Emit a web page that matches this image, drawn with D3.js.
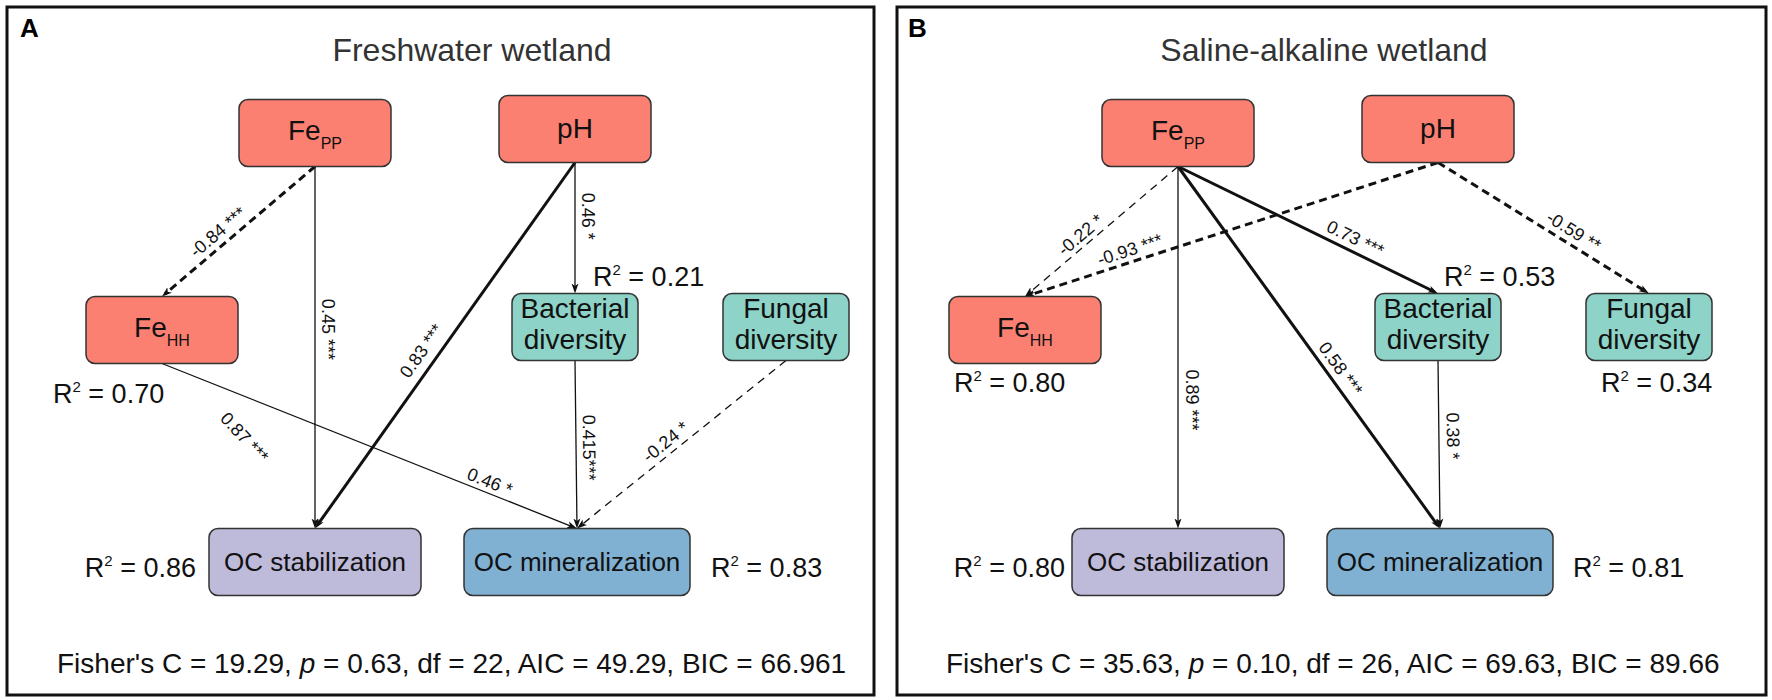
<!DOCTYPE html>
<html>
<head>
<meta charset="utf-8">
<script src="https://cdn.jsdelivr.net/npm/d3@7"></script>
<style>
  body { margin: 0; background: #fff; }
  svg { display: block; font-family: "Liberation Sans", Arial, sans-serif; }
</style>
</head>
<body>
<div id="chart"></div>
<script>
// ---- data ----
const nodeIds   = ["FePP", "pH", "FeHH", "Bact", "Fung", "OCs", "OCm"];
const nodeGroup = ["fe", "fe", "fe", "micro", "micro", "stab", "min"];
const nodeMain  = ["Fe", "pH", "Fe", "Bacterial", "Fungal", "OC stabilization", "OC mineralization"];
const nodeSub   = ["PP", "", "HH", "", "", "", ""];
const nodeLine2 = ["", "", "", "diversity", "diversity", "", ""];

const letters = ["A", "B"];
const titles  = ["Freshwater wetland", "Saline-alkaline wetland"];

// panel A paths
const fromA  = ["FePP", "FePP", "pH", "pH", "FeHH", "FeHH", "Bact", "Fung"];
const toA    = ["FeHH", "OCs", "OCs", "Bact", "OCs", "OCm", "OCm", "OCm"];
const coefA  = [-0.84, 0.45, 0.83, 0.46, 0.87, 0.46, 0.415, -0.24];
const starsA = [" ***", " ***", " ***", " *", " ***", " *", "***", " *"];
const r2NodeA = ["FeHH", "Bact", "OCs", "OCm"];
const r2A     = ["0.70", "0.21", "0.86", "0.83"];

// panel B paths
const fromB  = ["FePP", "pH", "FePP", "FePP", "FePP", "Bact", "pH"];
const toB    = ["FeHH", "FeHH", "OCs", "Bact", "OCm", "OCm", "Fung"];
const coefB  = [-0.22, -0.93, 0.89, 0.73, 0.58, 0.38, -0.59];
const starsB = [" *", " ***", " ***", " ***", " ***", " *", " **"];
const r2NodeB = ["FeHH", "Bact", "Fung", "OCs", "OCm"];
const r2B     = ["0.80", "0.53", "0.34", "0.80", "0.81"];

// model fit
const fitNames = ["Fisher's C", "p", "df", "AIC", "BIC"];
const fitA = ["19.29", "0.63", "22", "49.29", "66.961"];
const fitB = ["35.63", "0.10", "26", "69.63", "89.66"];

// ---- layout / style (kept apart from the values) ----
const weightA = ["thick", "thin", "thick", "thin", "none", "thin", "thin", "thin"];
const weightB = ["thin", "thick", "thin", "thick", "thick", "thin", "thick"];
const labTA = [0.58, 0.45, 0.54, 0.41, 0.49, 0.78, 0.52, 0.54];
const labDA = [13, 13, 16, 13, 10, 11, 13, 12];
const labTB = [0.59, 0.737, 0.645, 0.66, 0.58, 0.45, 0.61];
const labDB = [11, 12, 14, 13, 13, 14, 13];
const r2PosA = [[53, 403, "start"], [593, 286, "start"], [196, 577, "end"], [711, 577, "start"]];
const r2PosB = [[91, 392, "start"], [581, 286, "start"], [738, 392, "start"], [202, 577, "end"], [710, 577, "start"]];

const panelShift = [0, 863];
const borderX = [7, 34], borderW = [867, 869];
const letterX = [20, 45];
const titleX = [472, 461];
const fitX = [57, 83];

const xPos = d3.scaleOrdinal().domain(nodeIds).range([315, 575, 162, 575, 786, 315, 577]);
const yPos = d3.scaleOrdinal().domain(nodeIds).range([133, 129, 330, 327, 327, 562, 562]);
const boxW = d3.scaleOrdinal().domain(nodeIds).range([152, 152, 152, 126, 126, 212, 226]);
const boxH = 67;
const fill = d3.scaleOrdinal().domain(["fe", "micro", "stab", "min"])
  .range(["#FB8072", "#8DD3C7", "#BEBADA", "#80B1D3"]);
const strokeW = d3.scaleOrdinal().domain(["thick", "thin", "none"]).range([3, 1.3, 0]);

const svg = d3.select("#chart").append("svg")
  .attr("width", 1772)
  .attr("height", 700);

svg.append("rect").attr("width", 1772).attr("height", 700).attr("fill", "#fff");

// arrow head, tip sits 4px past the line end
svg.append("defs").append("marker")
  .attr("id", "head")
  .attr("markerUnits", "userSpaceOnUse")
  .attr("viewBox", "0 0 10 10")
  .attr("markerWidth", 10)
  .attr("markerHeight", 10)
  .attr("refX", 6)
  .attr("refY", 5)
  .attr("orient", "auto")
  .append("path")
  .attr("d", "M0,1.5 L10,5 L0,8.5 L2.5,5 Z")
  .attr("fill", "#111");

function drawPanel(k, from, to, coef, stars, weight, labT, labD, r2Node, r2, r2Pos, fit) {
  const g = svg.append("g").attr("transform", `translate(${panelShift[k]},0)`);

  g.append("rect")
    .attr("x", borderX[k]).attr("y", 7)
    .attr("width", borderW[k]).attr("height", 688)
    .attr("fill", "none").attr("stroke", "#111").attr("stroke-width", 3);

  g.append("text")
    .attr("x", letterX[k]).attr("y", 37)
    .attr("font-size", 26).attr("font-weight", "bold")
    .text(letters[k]);

  g.append("text")
    .attr("x", titleX[k]).attr("y", 61)
    .attr("text-anchor", "middle")
    .attr("font-size", 32).attr("fill", "#333")
    .text(titles[k]);

  // paths
  const edges = from.map((f, i) => {
    const x1 = xPos(f), y1 = yPos(f) + boxH / 2;
    const x2 = xPos(to[i]), y2 = yPos(to[i]) - boxH / 2;
    return { x1, y1, x2, y2, coef: coef[i], stars: stars[i], w: weight[i], t: labT[i], d: labD[i] };
  });

  g.selectAll("line.path").data(edges.filter(e => e.w !== "none")).enter()
    .append("line")
    .attr("class", "path")
    .attr("x1", e => e.x1).attr("y1", e => e.y1)
    .attr("x2", e => { const L = Math.hypot(e.x2 - e.x1, e.y2 - e.y1); return e.x2 - (e.x2 - e.x1) / L * 4; })
    .attr("y2", e => { const L = Math.hypot(e.x2 - e.x1, e.y2 - e.y1); return e.y2 - (e.y2 - e.y1) / L * 4; })
    .attr("stroke", "#111")
    .attr("stroke-width", e => strokeW(e.w))
    .attr("stroke-dasharray", e => e.coef < 0 ? (e.w === "thick" ? "8,5" : "8,6") : null)
    .attr("marker-end", "url(#head)");

  g.selectAll("text.coef").data(edges).enter()
    .append("text")
    .attr("class", "coef")
    .attr("font-size", 18)
    .attr("fill", "#111")
    .attr("text-anchor", "middle")
    .attr("dominant-baseline", "central")
    .attr("transform", e => {
      let a = Math.atan2(e.y2 - e.y1, e.x2 - e.x1) * 180 / Math.PI;
      if (a > 90) a -= 180;
      if (a < -90) a += 180;
      const r = a * Math.PI / 180;
      const px = e.x1 + (e.x2 - e.x1) * e.t + Math.sin(r) * e.d;
      const py = e.y1 + (e.y2 - e.y1) * e.t - Math.cos(r) * e.d;
      return `translate(${px},${py}) rotate(${a})`;
    })
    .text(e => String(e.coef) + e.stars);

  // boxes
  const nodes = g.selectAll("g.node").data(nodeIds).enter()
    .append("g").attr("class", "node")
    .attr("transform", d => `translate(${xPos(d)},${yPos(d)})`);

  nodes.append("rect")
    .attr("x", d => -boxW(d) / 2).attr("y", -boxH / 2)
    .attr("width", d => boxW(d)).attr("height", boxH)
    .attr("rx", 9)
    .attr("fill", (d, i) => fill(nodeGroup[i]))
    .attr("stroke", "#333").attr("stroke-width", 1.5);

  nodes.each(function (d, i) {
    const n = d3.select(this);
    const two = nodeLine2[i] !== "";
    const t = n.append("text")
      .attr("text-anchor", "middle")
      .attr("y", two ? -9 : (nodeSub[i] ? 7 : 9))
      .attr("font-size", nodeSub[i] || i === 1 || two ? 28 : 26)
      .attr("fill", "#111");
    t.append("tspan").text(nodeMain[i]);
    if (nodeSub[i]) t.append("tspan").attr("font-size", 16).attr("dy", 9).text(nodeSub[i]);
    if (two) {
      n.append("text").attr("text-anchor", "middle").attr("y", 22)
        .attr("font-size", 28).attr("fill", "#111").text(nodeLine2[i]);
    }
  });

  // R2 labels
  r2Node.forEach((nd, i) => {
    const t = g.append("text")
      .attr("x", r2Pos[i][0]).attr("y", r2Pos[i][1])
      .attr("text-anchor", r2Pos[i][2])
      .attr("font-size", 27).attr("fill", "#111");
    t.append("tspan").text("R");
    t.append("tspan").attr("font-size", 15).attr("dy", -11).text("2");
    t.append("tspan").attr("dy", 11).text(" = " + r2[i]);
  });

  // fit statistics
  const ft = g.append("text")
    .attr("x", fitX[k]).attr("y", 673)
    .attr("font-size", 28).attr("fill", "#111");
  fitNames.forEach((nm, i) => {
    if (nm === "p") ft.append("tspan").attr("font-style", "italic").text("p");
    else ft.append("tspan").text(nm);
    ft.append("tspan").text(" = " + fit[i] + (i < fitNames.length - 1 ? ", " : ""));
  });
}

drawPanel(0, fromA, toA, coefA, starsA, weightA, labTA, labDA, r2NodeA, r2A, r2PosA, fitA);
drawPanel(1, fromB, toB, coefB, starsB, weightB, labTB, labDB, r2NodeB, r2B, r2PosB, fitB);
</script>
</body>
</html>
